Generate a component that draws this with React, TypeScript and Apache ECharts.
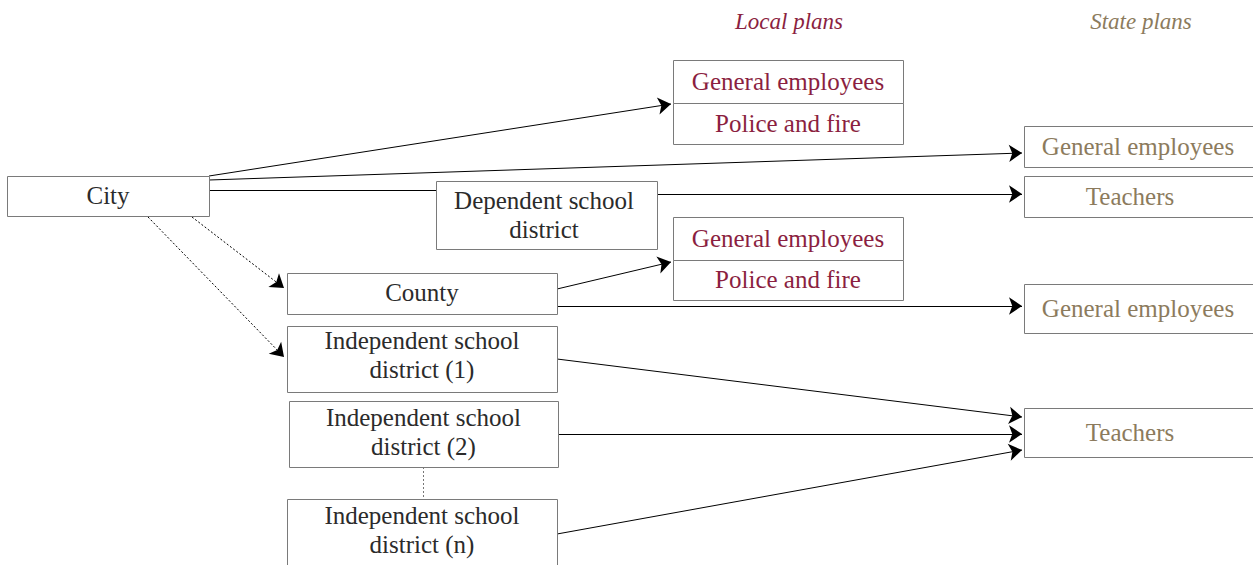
import React, { useEffect, useRef } from "react";
import * as echarts from "echarts";

const W = 1253;
const H = 565;
const FONT = "'Liberation Serif', 'DejaVu Serif', serif";
const TEXT = "#2b2b2b";
const LOCAL = "#8b1f41";
const STATE = "#8c7b5d";
const BORDER = "#7a7a7a";

// Column headers
const headerLabels = ["Local plans", "State plans"];
const headerColors = [LOCAL, STATE];
const headerPos = [[789, 21], [1141, 21]];

// Government units (left side)
const govLabels = [
  "City",
  "Dependent school\ndistrict",
  "County",
  "Independent school\ndistrict (1)",
  "Independent school\ndistrict (2)",
  "Independent school\ndistrict (n)",
];
const govRects = [
  [7, 176, 209, 216],
  [436, 181, 657, 249],
  [287, 273, 557, 314],
  [287, 326, 557, 392],
  [289, 401, 558, 467],
  [287, 499, 557, 575],
];
const govLabelY = [195.5, 215, 292.5, 355, 432, 530];
const govLabelX = [108, 544, 422, 422, 423.5, 422];

// Local plans
const localLabels = ["General employees", "Police and fire", "General employees", "Police and fire"];
const localRects = [
  [673, 60, 903, 103],
  [673, 103, 903, 144],
  [673, 217, 903, 260],
  [673, 260, 903, 300],
];

// State plans
const stateLabels = ["General employees", "Teachers", "General employees", "Teachers"];
const stateRects = [
  [1024, 126, 1253, 167],
  [1024, 176, 1253, 217],
  [1024, 284, 1253, 333],
  [1024, 408, 1253, 457],
];
const stateLabelX = [1138, 1130, 1138, 1130];

// Connections: [from, arrow tip]
const solidArrows = [
  [[209, 176], [671, 104]],
  [[209, 180], [1022, 153]],
  [[657, 194], [1022, 194]],
  [[557, 289], [671, 262]],
  [[557, 306], [1022, 306]],
  [[557, 359], [1022, 417]],
  [[558, 434], [1022, 434]],
  [[557, 534], [1022, 450]],
];
const plainLines = [[[209, 190], [436, 190]]];
const dottedArrows = [
  [[192, 217], [284, 288]],
  [[148, 217], [284, 357]],
];
const dashedConnectors = [[[423, 467], [423, 499]]];

const ARROW_LEN = 13;
const ARROW_W = 7.5;

type Box = { rect: number[]; label: string; x: number; y: number; color: string };

const boxes: Box[] = [
  ...govRects.map((r, i) => ({ rect: r, label: govLabels[i], x: govLabelX[i], y: govLabelY[i], color: TEXT })),
  ...localRects.map((r, i) => ({ rect: r, label: localLabels[i], x: (r[0] + r[2]) / 2, y: (r[1] + r[3]) / 2 - 0.5, color: LOCAL })),
  ...stateRects.map((r, i) => ({ rect: r, label: stateLabels[i], x: stateLabelX[i], y: (r[1] + r[3]) / 2 - 0.5, color: STATE })),
];

export default function App() {
  const ref = useRef<HTMLDivElement>(null);
  useEffect(() => {
    if (!ref.current) return;
    const chart = echarts.init(ref.current, undefined, { renderer: "svg" });
    const lineSeries = (data: number[][][], type: any, arrow: boolean, color: string) => ({
      type: "lines",
      coordinateSystem: "cartesian2d",
      silent: true,
      z: 1,
      symbol: arrow ? ["none", "arrow"] : ["none", "none"],
      symbolSize: [ARROW_W, ARROW_LEN],
      lineStyle: { color, width: 1, type, opacity: 1, curveness: 0 },
      itemStyle: { color },
      data: data.map((s) => ({ coords: s })),
    });
    chart.setOption({
      animation: false,
      grid: { left: 0, right: 0, top: 0, bottom: 0 },
      xAxis: { type: "value", min: 0, max: W, show: false },
      yAxis: { type: "value", min: 0, max: H, inverse: true, show: false },
      series: [
        lineSeries(solidArrows, "solid", true, "#000"),
        lineSeries(plainLines, "solid", false, "#000"),
        lineSeries(dottedArrows, [2, 2], true, "#000"),
        lineSeries(dashedConnectors, [2, 2], false, "#777"),
        {
          type: "custom",
          coordinateSystem: "cartesian2d",
          silent: true,
          clip: false,
          z: 2,
          data: boxes.map((b) => [...b.rect, b.x, b.y]),
          renderItem: (params: any, api: any) => {
            const b = boxes[params.dataIndex];
            const p0 = api.coord([api.value(0), api.value(1)]);
            const p1 = api.coord([api.value(2), api.value(3)]);
            const pt = api.coord([api.value(4), api.value(5)]);
            return {
              type: "group",
              children: [
                {
                  type: "rect",
                  shape: {
                    x: Math.round(p0[0]) + 0.5,
                    y: Math.round(p0[1]) + 0.5,
                    width: Math.round(p1[0] - p0[0]),
                    height: Math.round(p1[1] - p0[1]),
                  },
                  style: { fill: "#fff", stroke: BORDER, lineWidth: 1 },
                },
                {
                  type: "text",
                  style: {
                    text: b.label,
                    x: pt[0],
                    y: pt[1],
                    align: "center",
                    verticalAlign: "middle",
                    font: `25px ${FONT}`,
                    fill: b.color,
                    lineHeight: 29,
                  },
                },
              ],
            };
          },
        },
        {
          type: "custom",
          coordinateSystem: "cartesian2d",
          silent: true,
          clip: false,
          z: 3,
          data: headerPos,
          renderItem: (params: any, api: any) => {
            const p = api.coord([api.value(0), api.value(1)]);
            return {
              type: "text",
              style: {
                text: headerLabels[params.dataIndex],
                x: p[0],
                y: p[1],
                align: "center",
                verticalAlign: "middle",
                font: `italic 23px ${FONT}`,
                fill: headerColors[params.dataIndex],
              },
            };
          },
        },
      ],
    });
    return () => chart.dispose();
  }, []);
  return (
    <div
      ref={ref}
      style={{ position: "fixed", left: 0, top: 0, width: W, height: H, background: "#fff" }}
    />
  );
}
